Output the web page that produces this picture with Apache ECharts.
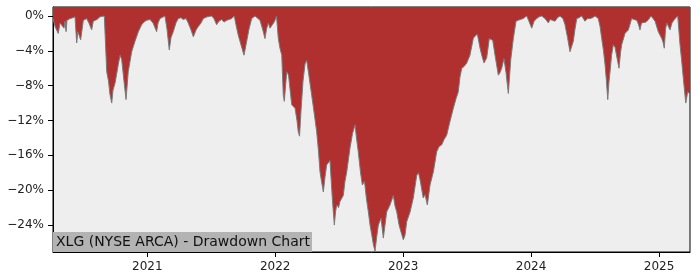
<!DOCTYPE html>
<html><head><meta charset="utf-8">
<script src="https://cdn.jsdelivr.net/npm/echarts@6/dist/echarts.min.js"></script>
<style>html,body{margin:0;padding:0;background:#fff}#c{width:700px;height:280px}</style>
</head><body><div id="c"></div>
<script>
// time in decimal years, drawdown in percent
const times = [
2020.263,2020.279,2020.304,2020.318,2020.331,2020.349,2020.357,2020.365,2020.372,2020.396,2020.419,2020.435,2020.448,2020.458,2020.468,2020.479,2020.500,2020.526,2020.544,2020.565,2020.578,2020.607,2020.630,2020.664,2020.683,2020.697,2020.708,2020.722,2020.732,2020.748,2020.773,2020.787,2020.800,2020.818,2020.834,2020.851,2020.878,2020.904,2020.930,2020.956,2020.974,2020.995,
2021.021,2021.045,2021.073,2021.084,2021.099,2021.138,2021.154,2021.172,2021.185,2021.203,2021.224,2021.242,2021.263,2021.281,2021.303,2021.320,2021.342,2021.360,2021.381,2021.399,2021.420,2021.438,2021.467,2021.503,2021.521,2021.542,2021.560,2021.582,2021.600,2021.621,2021.639,2021.660,2021.680,2021.693,2021.711,2021.732,2021.756,2021.777,2021.795,2021.816,2021.842,2021.858,2021.881,2021.901,2021.920,2021.932,2021.946,2021.959,2021.972,2021.987,2021.998,
2022.010,2022.024,2022.037,2022.051,2022.063,2022.071,2022.090,2022.104,2022.129,2022.155,2022.170,2022.180,2022.190,2022.201,2022.217,2022.233,2022.246,2022.260,2022.285,2022.303,2022.324,2022.338,2022.350,2022.362,2022.376,2022.389,2022.402,2022.416,2022.428,2022.446,2022.462,2022.471,2022.481,2022.495,2022.506,2022.532,2022.545,2022.559,2022.584,2022.604,2022.624,2022.635,2022.649,2022.667,2022.681,2022.698,2022.713,2022.728,2022.741,2022.754,2022.768,2022.780,2022.792,2022.806,2022.827,2022.845,2022.858,2022.871,2022.897,2022.923,2022.936,2022.950,2022.968,2022.989,
2023.001,2023.014,2023.028,2023.054,2023.079,2023.106,2023.120,2023.132,2023.157,2023.171,2023.189,2023.210,2023.236,2023.262,2023.280,2023.301,2023.319,2023.340,2023.366,2023.392,2023.413,2023.431,2023.444,2023.458,2023.476,2023.497,2023.522,2023.548,2023.562,2023.580,2023.601,2023.616,2023.632,2023.653,2023.673,2023.700,2023.718,2023.744,2023.757,2023.770,2023.788,2023.804,2023.822,2023.841,2023.861,2023.882,2023.898,2023.913,2023.937,2023.966,2023.980,
2024.005,2024.023,2024.044,2024.062,2024.083,2024.109,2024.135,2024.148,2024.161,2024.187,2024.206,2024.226,2024.249,2024.265,2024.285,2024.304,2024.330,2024.343,2024.357,2024.374,2024.396,2024.421,2024.441,2024.460,2024.480,2024.500,2024.525,2024.539,2024.552,2024.566,2024.578,2024.589,2024.599,2024.609,2024.617,2024.629,2024.643,2024.656,2024.669,2024.687,2024.699,2024.708,2024.734,2024.760,2024.786,2024.804,2024.826,2024.840,2024.851,2024.863,2024.877,2024.898,2024.918,2024.937,2024.953,2024.969,2024.984,
2024.994,2025.008,2025.021,2025.031,2025.041,2025.051,2025.060,2025.070,2025.086,2025.101,2025.125,2025.146,2025.164,2025.176,2025.190,2025.209,2025.224,2025.242
];
const drawdown = [
-0.3,-1.2,-2.0,-0.8,-1.0,-1.4,-0.6,-1.8,-0.5,-0.3,-0.2,-0.1,-3.1,-1.8,-1.6,-2.75,-0.5,-0.3,-0.8,-1.6,-0.6,-0.4,-0.1,0,-6.4,-7.5,-9.0,-10.0,-8.5,-7.7,-5.6,-4.5,-5.0,-7.5,-9.6,-6.4,-4.1,-2.9,-1.8,-1.0,-0.7,-0.5,
-0.4,-0.8,-1.8,-0.8,-0.3,0,-1.5,-3.9,-2.5,-1.8,-0.8,-0.3,-0.2,-0.4,-0.3,-0.8,-1.6,-2.4,-1.6,-1.2,-0.8,-0.3,-0.1,0,-0.3,-1.0,-0.6,-0.4,-0.7,-0.5,-0.4,-0.3,0,-1.0,-2.2,-3.3,-4.5,-2.9,-1.5,-0.3,0,-0.2,-0.5,-1.5,-2.6,-1.5,-0.8,-1.4,-1.6,-0.8,-0.5,
0,-2.6,-3.7,-4.5,-9.1,-9.8,-6.4,-6.8,-10.2,-10.6,-12.0,-13.3,-13.8,-11.0,-7.5,-5.5,-5.1,-6.5,-9.1,-11.0,-13.3,-15.5,-17.9,-19.0,-20.2,-18.5,-17.1,-17.3,-16.6,-20.9,-24.0,-22.5,-21.7,-22.0,-21.3,-20.6,-19.0,-17.9,-15.2,-13.5,-12.5,-14.0,-15.6,-18.0,-19.4,-19.0,-21.0,-22.5,-24.0,-25.1,-26.3,-27.0,-25.5,-24.0,-23.2,-25.5,-24.0,-22.5,-21.7,-20.6,-21.8,-22.5,-24.0,-25.1,
-25.7,-25.2,-23.6,-22.5,-20.9,-18.3,-18.0,-18.8,-20.9,-20.5,-21.7,-19.4,-17.9,-15.6,-15.0,-14.8,-14.2,-13.7,-12.1,-10.6,-9.5,-8.7,-7.0,-6.0,-5.8,-5.4,-4.5,-2.6,-2.3,-2.1,-3.7,-4.6,-5.4,-4.8,-2.6,-2.8,-4.5,-6.8,-6.5,-6.0,-4.9,-6.5,-8.9,-5.0,-2.6,-0.6,-0.5,-0.3,-0.3,0,-0.5,
-1.4,-0.6,-0.3,-0.1,0,-0.3,-0.8,-0.4,-0.5,-0.6,-0.2,0,-0.3,-1.0,-2.5,-4.1,-2.9,-1.5,-0.3,-0.2,0,-0.6,-0.3,-0.3,-0.2,0,-0.3,-1.2,-2.6,-4.0,-5.6,-7.5,-9.6,-7.5,-6.4,-4.5,-3.3,-3.6,-3.8,-6.0,-4.2,-3.3,-2.0,-1.6,-0.3,-0.4,-0.5,-1.0,-1.6,-0.8,-0.9,-0.7,-0.4,0,-0.3,-0.6,-0.8,
-1.8,-2.0,-2.6,-3.0,-3.7,-1.5,-0.8,-1.1,-1.6,-0.8,-0.3,0,-3.3,-5.0,-7.2,-10.0,-8.7,-9.0
];
const yearTicks = [2021, 2022, 2023, 2024, 2025];
const pctTicks = [0, -4, -8, -12, -16, -20, -24];
const titleText = 'XLG (NYSE ARCA) - Drawdown Chart';

const chart = echarts.init(document.getElementById('c'), null, {renderer: 'canvas'});
const font = 'DejaVu Sans';
chart.setOption({
  animation: false,
  backgroundColor: '#ffffff',
  grid: {left: 53, right: 10, top: 7, bottom: 28, show: true, backgroundColor: '#eeeeee', borderColor: '#000', borderWidth: 1},
  title: {
    text: titleText, left: 53, top: 232,
    padding: [3, 2, 3, 3],
    backgroundColor: '#b3b3b3',
    textStyle: {fontFamily: font, fontSize: 14, lineHeight: 14, fontWeight: 'normal', color: '#111'}
  },
  xAxis: {
    type: 'value', min: times[0], max: times[times.length - 1],
    splitLine: {show: false},
    axisLine: {show: true, onZero: false, lineStyle: {color: '#000'}},
    axisTick: {show: true, customValues: yearTicks, length: 5, lineStyle: {color: '#000'}},
    axisLabel: {customValues: yearTicks, formatter: v => String(Math.round(v)), fontFamily: font, fontSize: 12, color: '#222', margin: 9}
  },
  yAxis: {
    type: 'value', min: -27.1, max: 1.03,
    splitLine: {show: false},
    axisLine: {show: true, lineStyle: {color: '#000'}},
    axisTick: {show: true, customValues: pctTicks, length: 5, lineStyle: {color: '#000'}},
    axisLabel: {customValues: pctTicks, formatter: v => (v < 0 ? '\u2212' + Math.abs(Math.round(v)) : Math.round(v)) + '%', fontFamily: font, fontSize: 12, color: '#222', margin: 9}
  },
  series: [{
    type: 'line',
    data: times.map((t, i) => [t, drawdown[i]]),
    symbol: 'none',
    lineStyle: {color: '#7a7a7a', width: 1},
    areaStyle: {color: '#b03030', opacity: 1, origin: 'end'}
  }]
});
</script></body></html>
